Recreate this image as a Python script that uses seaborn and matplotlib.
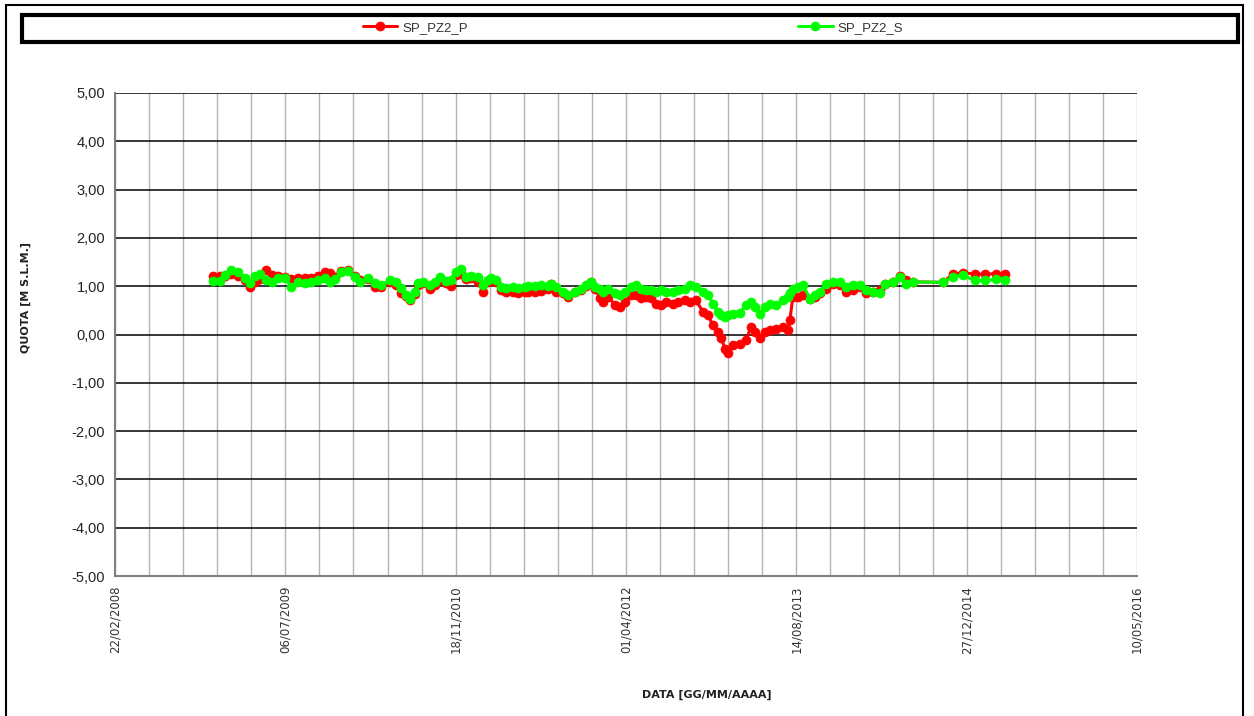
# Piezometro SP_PZ2 - quote falda
import matplotlib
matplotlib.use('Agg')
import matplotlib.pyplot as plt
from matplotlib.patches import Rectangle
import numpy as np
import pandas as pd
import seaborn as sns

dates = [
    '2008-12-06', '2008-12-26', '2009-01-10', '2009-01-27', '2009-02-17', '2009-03-10',
    '2009-03-24', '2009-04-08', '2009-04-23', '2009-05-10', '2009-05-28', '2009-06-14',
    '2009-07-05', '2009-07-23', '2009-08-12', '2009-09-02', '2009-09-19', '2009-10-10',
    '2009-10-30', '2009-11-14', '2009-11-29', '2009-12-16', '2010-01-06', '2010-01-26',
    '2010-02-10', '2010-03-06', '2010-03-26', '2010-04-13', '2010-05-09', '2010-05-27',
    '2010-06-11', '2010-06-25', '2010-07-07', '2010-07-22', '2010-07-30', '2010-08-14',
    '2010-09-04', '2010-09-18', '2010-10-03', '2010-10-21', '2010-11-04', '2010-11-19',
    '2010-12-04', '2010-12-18', '2011-01-02', '2011-01-23', '2011-02-06', '2011-02-21',
    '2011-03-02', '2011-03-16', '2011-03-31', '2011-04-15', '2011-05-05', '2011-05-20',
    '2011-06-10', '2011-06-18', '2011-07-09', '2011-07-26', '2011-08-16', '2011-08-25',
    '2011-09-08', '2011-09-29', '2011-10-14', '2011-11-03', '2011-11-21', '2011-12-06',
    '2011-12-20', '2012-01-01', '2012-01-16', '2012-01-24', '2012-02-08', '2012-02-29',
    '2012-03-14', '2012-03-29', '2012-04-16', '2012-04-30', '2012-05-15', '2012-05-30',
    '2012-06-13', '2012-06-28', '2012-07-13', '2012-07-27', '2012-08-17', '2012-09-01',
    '2012-09-21', '2012-10-06', '2012-10-23', '2012-11-13', '2012-11-28', '2012-12-12',
    '2012-12-27', '2013-01-05', '2013-01-17', '2013-01-25', '2013-02-09', '2013-03-02',
    '2013-03-19', '2013-04-03', '2013-04-15', '2013-04-29', '2013-05-14', '2013-05-29',
    '2013-06-15', '2013-07-06', '2013-07-21', '2013-07-26', '2013-08-04', '2013-08-19',
    '2013-09-03', '2013-09-23', '2013-10-08', '2013-10-22', '2013-11-09', '2013-11-30',
    '2013-12-20', '2014-01-07', '2014-01-27', '2014-02-17', '2014-03-06', '2014-03-27',
    '2014-04-17', '2014-05-01', '2014-05-25', '2014-06-14', '2014-07-02', '2014-07-22',
    '2014-10-18', '2014-11-17', '2014-12-16', '2015-01-20', '2015-02-19', '2015-03-23',
    '2015-04-18',
]

sp_pz2_p = [
    1.21, 1.21, 1.22, 1.25, 1.22, 1.12,
    0.99, 1.09, 1.15, 1.33, 1.23, 1.21,
    1.19, 1.14, 1.17, 1.18, 1.17, 1.21,
    1.30, 1.27, 1.19, 1.31, 1.33, 1.22,
    1.12, 1.14, 0.99, 0.99, 1.09, 1.02,
    0.85, 0.80, 0.71, 0.84, 1.02, 1.06,
    0.95, 1.02, 1.12, 1.06, 1.00, 1.24,
    1.25, 1.14, 1.16, 1.09, 0.89, 1.09,
    1.12, 1.09, 0.92, 0.89, 0.89, 0.85,
    0.89, 0.89, 0.89, 0.90, 0.95, 1.05,
    0.89, 0.85, 0.78, 0.87, 0.92, 1.00,
    1.08, 0.95, 0.75, 0.68, 0.78, 0.61,
    0.57, 0.68, 0.81, 0.81, 0.75, 0.78,
    0.75, 0.64, 0.61, 0.68, 0.64, 0.68,
    0.71, 0.68, 0.71, 0.47, 0.40, 0.19,
    0.06, -0.08, -0.29, -0.39, -0.22, -0.19,
    -0.12, 0.16, 0.06, -0.08, 0.06, 0.09,
    0.12, 0.16, 0.09, 0.30, 0.78, 0.78,
    0.81, 0.74, 0.78, 0.85, 0.95, 1.05,
    1.02, 0.88, 0.92, 0.99, 0.85, 0.88,
    0.92, 1.05, 1.09, 1.21, 1.12, 1.09,
    1.08, 1.25, 1.28, 1.25, 1.25, 1.26,
    1.25,
]

sp_pz2_s = [
    1.11, 1.11, 1.23, 1.33, 1.29, 1.17,
    1.06, 1.22, 1.25, 1.12, 1.09, 1.17,
    1.17, 0.99, 1.09, 1.06, 1.08, 1.12,
    1.16, 1.09, 1.14, 1.30, 1.31, 1.19,
    1.09, 1.16, 1.06, 1.02, 1.12, 1.09,
    0.96, 0.82, 0.74, 0.89, 1.06, 1.09,
    1.02, 1.09, 1.19, 1.10, 1.12, 1.30,
    1.36, 1.19, 1.22, 1.19, 1.02, 1.12,
    1.16, 1.12, 0.99, 0.96, 0.99, 0.96,
    0.99, 1.00, 1.00, 1.02, 1.00, 1.05,
    0.99, 0.89, 0.81, 0.88, 0.95, 1.02,
    1.09, 0.99, 0.95, 0.88, 0.95, 0.85,
    0.81, 0.88, 0.99, 1.02, 0.95, 0.92,
    0.92, 0.88, 0.92, 0.88, 0.88, 0.92,
    0.95, 1.02, 0.99, 0.88, 0.81, 0.64,
    0.47, 0.40, 0.37, 0.40, 0.43, 0.45,
    0.61, 0.68, 0.57, 0.43, 0.57, 0.64,
    0.61, 0.71, 0.78, 0.85, 0.95, 0.99,
    1.02, 0.74, 0.81, 0.88, 1.05, 1.09,
    1.09, 0.99, 1.02, 1.02, 0.92, 0.88,
    0.85, 1.05, 1.09, 1.19, 1.05, 1.09,
    1.08, 1.19, 1.23, 1.12, 1.12, 1.14,
    1.12,
]

series_names = ['SP_PZ2_P', 'SP_PZ2_S']
series_colors = ['#ff0000', '#00ff00']
x_start = pd.Timestamp('2008-02-22')
x_end = pd.Timestamp('2016-05-10')

df = pd.DataFrame({'DATA': pd.to_datetime(dates), 'SP_PZ2_P': sp_pz2_p, 'SP_PZ2_S': sp_pz2_s})

sns.set_style('white')
plt.rcParams['font.family'] = ['Liberation Sans', 'DejaVu Sans']

fig = plt.figure(figsize=(12.54, 7.16), dpi=100)
ax = fig.add_axes([115 / 1254, 1 - 576 / 716, 1022 / 1254, 483 / 716])

for name, col in zip(series_names, series_colors):
    sns.lineplot(data=df, x='DATA', y=name, ax=ax, color=col, marker='o',
                 markersize=6.5, markeredgecolor=col, markeredgewidth=0.5,
                 linewidth=2.2, label=name, zorder=3)

# assi
ax.set_xlim(x_start, x_end)
ax.set_ylim(-5, 5)
major = [x_start + pd.Timedelta(days=d) for d in range(0, 3001, 500)]
minor = [x_start + pd.Timedelta(days=d) for d in range(0, 3001, 100)]
ax.set_xticks(major)
ax.set_xticks(minor, minor=True)
ax.set_xticklabels([d.strftime('%d/%m/%Y') for d in major], rotation=90,
                   fontsize=8.5, color='#333333', family='DejaVu Sans')
yt = np.arange(-5, 6, 1)
ax.set_yticks(yt)
ax.set_yticklabels([f'{v:.2f}'.replace('.', ',') for v in yt], fontsize=10.5, color='#222222')

ax.grid(axis='x', which='both', color='#b4b4b4', linewidth=1)
ax.grid(axis='y', which='major', color='black', linewidth=1.1)
ax.set_axisbelow(True)
for s in ['top', 'right']:
    ax.spines[s].set_visible(False)
ax.spines['left'].set_color('#808080')
ax.spines['bottom'].set_color('#808080')
ax.spines['left'].set_linewidth(1.5)
ax.spines['bottom'].set_linewidth(1.5)
ax.tick_params(axis='x', which='major', direction='out', length=4, color='#808080', pad=3)
ax.tick_params(axis='x', which='minor', length=0)
ax.tick_params(axis='y', direction='out', length=4, color='#808080', pad=3)

ax.set_xlabel('DATA [GG/MM/AAAA]', fontsize=8, fontweight='bold', family='DejaVu Sans', color='#222222')
ax.set_ylabel('QUOTA [M S.L.M.]', fontsize=8, fontweight='bold', family='DejaVu Sans', color='#222222')
ax.xaxis.set_label_coords(0.579, -0.235)
ax.yaxis.set_label_coords(-0.082, 0.576)

# legenda in riquadro in alto
ax.get_legend().remove()
handles, labels = ax.get_legend_handles_labels()
fig.legend(handles, labels, loc='center', bbox_to_anchor=(0.505, 0.961), ncol=2,
           frameon=False, fontsize=9.5, columnspacing=25, handlelength=2.6,
           handletextpad=0.4, labelcolor='#333333')
fig.patches.append(Rectangle((22 / 1254, 1 - 42 / 716), 1216 / 1254, 27 / 716,
                             transform=fig.transFigure, fill=False, edgecolor='black', linewidth=3))
fig.patches.append(Rectangle((6 / 1254, -0.01), 1237 / 1254, 1 - 5 / 716 + 0.01,
                             transform=fig.transFigure, fill=False, edgecolor='black', linewidth=1.5))

fig.savefig('out.png', dpi=100)
